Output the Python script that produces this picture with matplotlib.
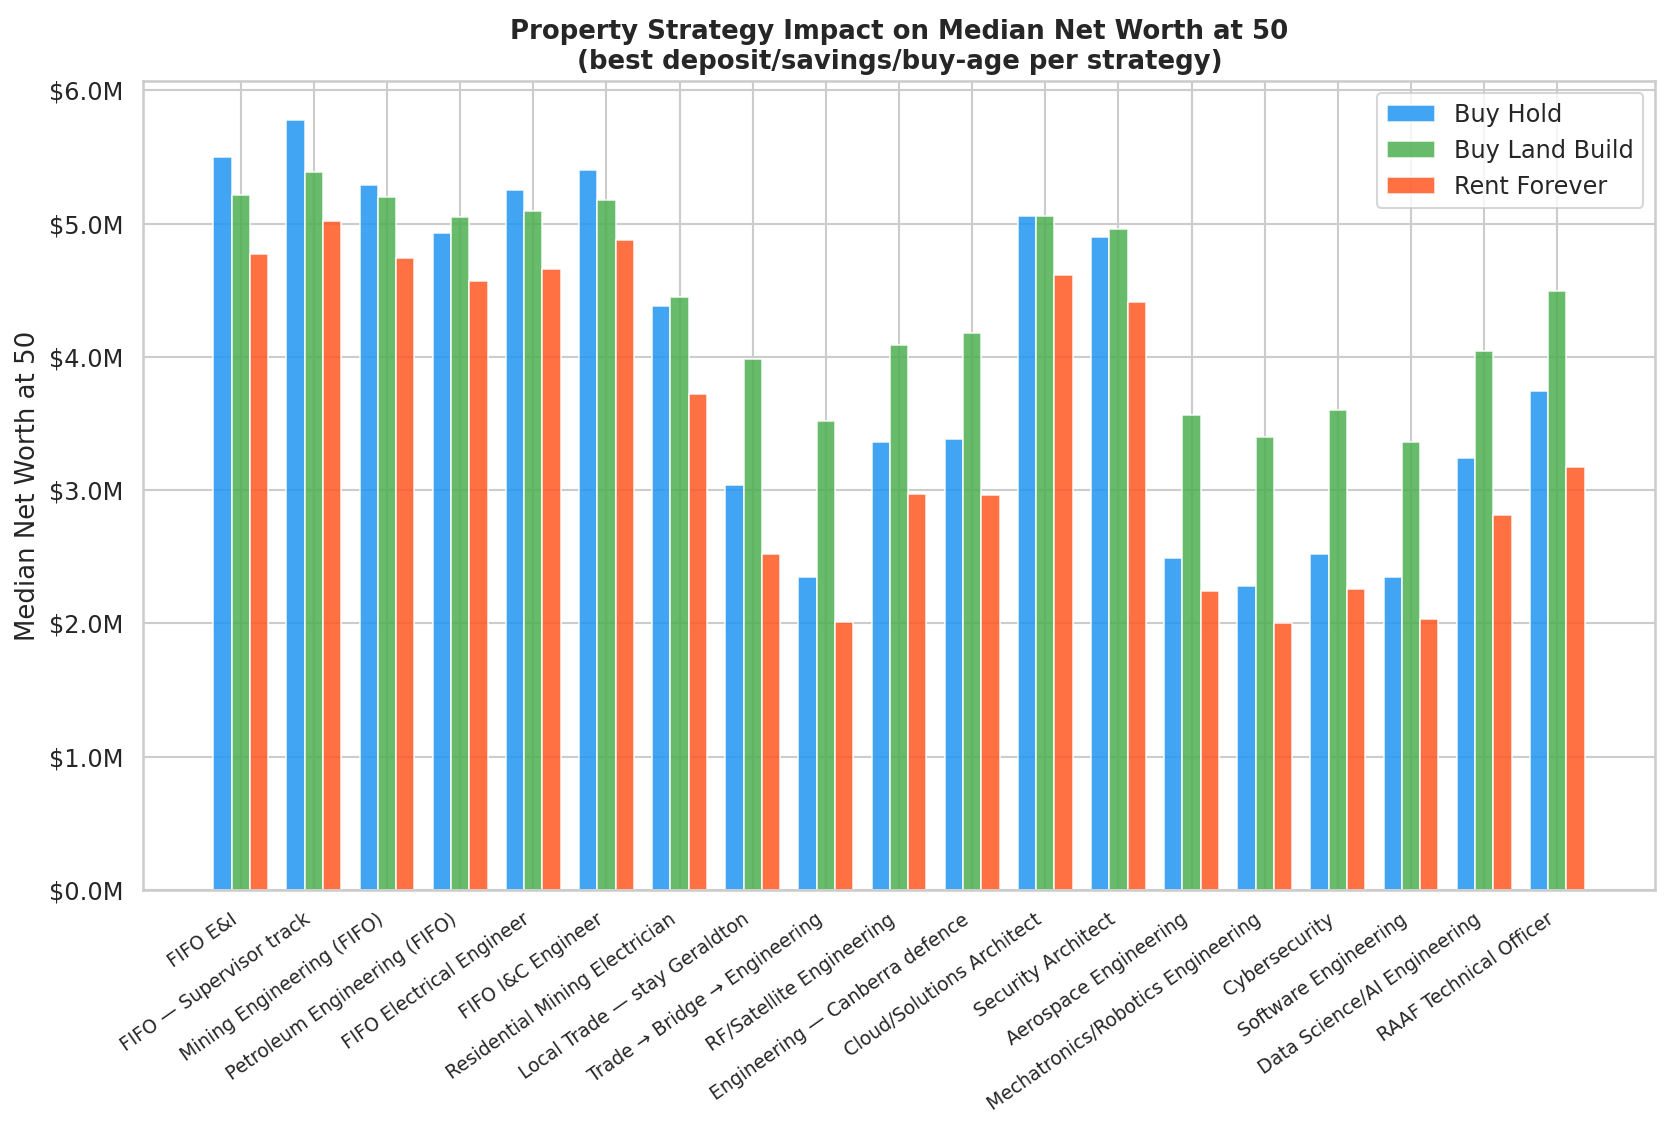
import numpy as np
import matplotlib
matplotlib.use("Agg")
import matplotlib.pyplot as plt
import seaborn as sns
from matplotlib.ticker import FuncFormatter

sns.set_theme(style="whitegrid")
plt.rcParams['font.family'] = ['DejaVu Sans']

# categories (careers / pathways)
careers = [
    "FIFO E&I",
    "FIFO \u2014 Supervisor track",
    "Mining Engineering (FIFO)",
    "Petroleum Engineering (FIFO)",
    "FIFO Electrical Engineer",
    "FIFO I&C Engineer",
    "Residential Mining Electrician",
    "Local Trade \u2014 stay Geraldton",
    "Trade \u2192 Bridge \u2192 Engineering",
    "RF/Satellite Engineering",
    "Engineering \u2014 Canberra defence",
    "Cloud/Solutions Architect",
    "Security Architect",
    "Aerospace Engineering",
    "Mechatronics/Robotics Engineering",
    "Cybersecurity",
    "Software Engineering",
    "Data Science/AI Engineering",
    "RAAF Technical Officer",
]

# median net worth at 50, in $M
buy_hold = [5.50, 5.78, 5.29, 4.93, 5.255, 5.40, 4.38, 3.04, 2.35, 3.36,
            3.38, 5.06, 4.90, 2.49, 2.28, 2.52, 2.35, 3.24, 3.74]
buy_land_build = [5.215, 5.39, 5.20, 5.05, 5.095, 5.18, 4.45, 3.98, 3.52, 4.09,
                  4.18, 5.055, 4.96, 3.56, 3.40, 3.60, 3.36, 4.04, 4.49]
rent_forever = [4.77, 5.02, 4.74, 4.57, 4.66, 4.88, 3.72, 2.52, 2.01, 2.97,
                2.96, 4.61, 4.41, 2.24, 2.00, 2.26, 2.03, 2.81, 3.17]

strategies = ["Buy Hold", "Buy Land Build", "Rent Forever"]
series = [buy_hold, buy_land_build, rent_forever]
colors = ["#2196F3", "#4CAF50", "#FF5722"]

fig = plt.figure(figsize=(1669 / 150, 1130 / 150), dpi=150)
ax = fig.add_axes([0.0859, 0.2124, 0.9918 - 0.0859, 0.9283 - 0.2124])

x = np.arange(len(careers))
width = 0.25
for i, (name, vals, col) in enumerate(zip(strategies, series, colors)):
    ax.bar(x + (i - 1) * width, np.array(vals) * 1e6, width, label=name,
           color=col, alpha=0.85, edgecolor="white", linewidth=0.8)

ax.set_xticks(x)
ax.set_xticklabels(careers, rotation=35, ha="right", fontsize=9)
ax.set_xlim(-1.33, 19.34)
ax.yaxis.set_major_formatter(FuncFormatter(lambda v, p: f"${v/1e6:.1f}M"))
ax.tick_params(axis="y", labelsize=11.5)
ax.set_ylabel("Median Net Worth at 50", fontsize=12.5)
ax.set_title("Property Strategy Impact on Median Net Worth at 50\n"
             "(best deposit/savings/buy-age per strategy)",
             fontsize=12.5, fontweight="bold")
ax.legend(loc="upper right", fontsize=11.5)

fig.savefig("out.png", dpi=150)
